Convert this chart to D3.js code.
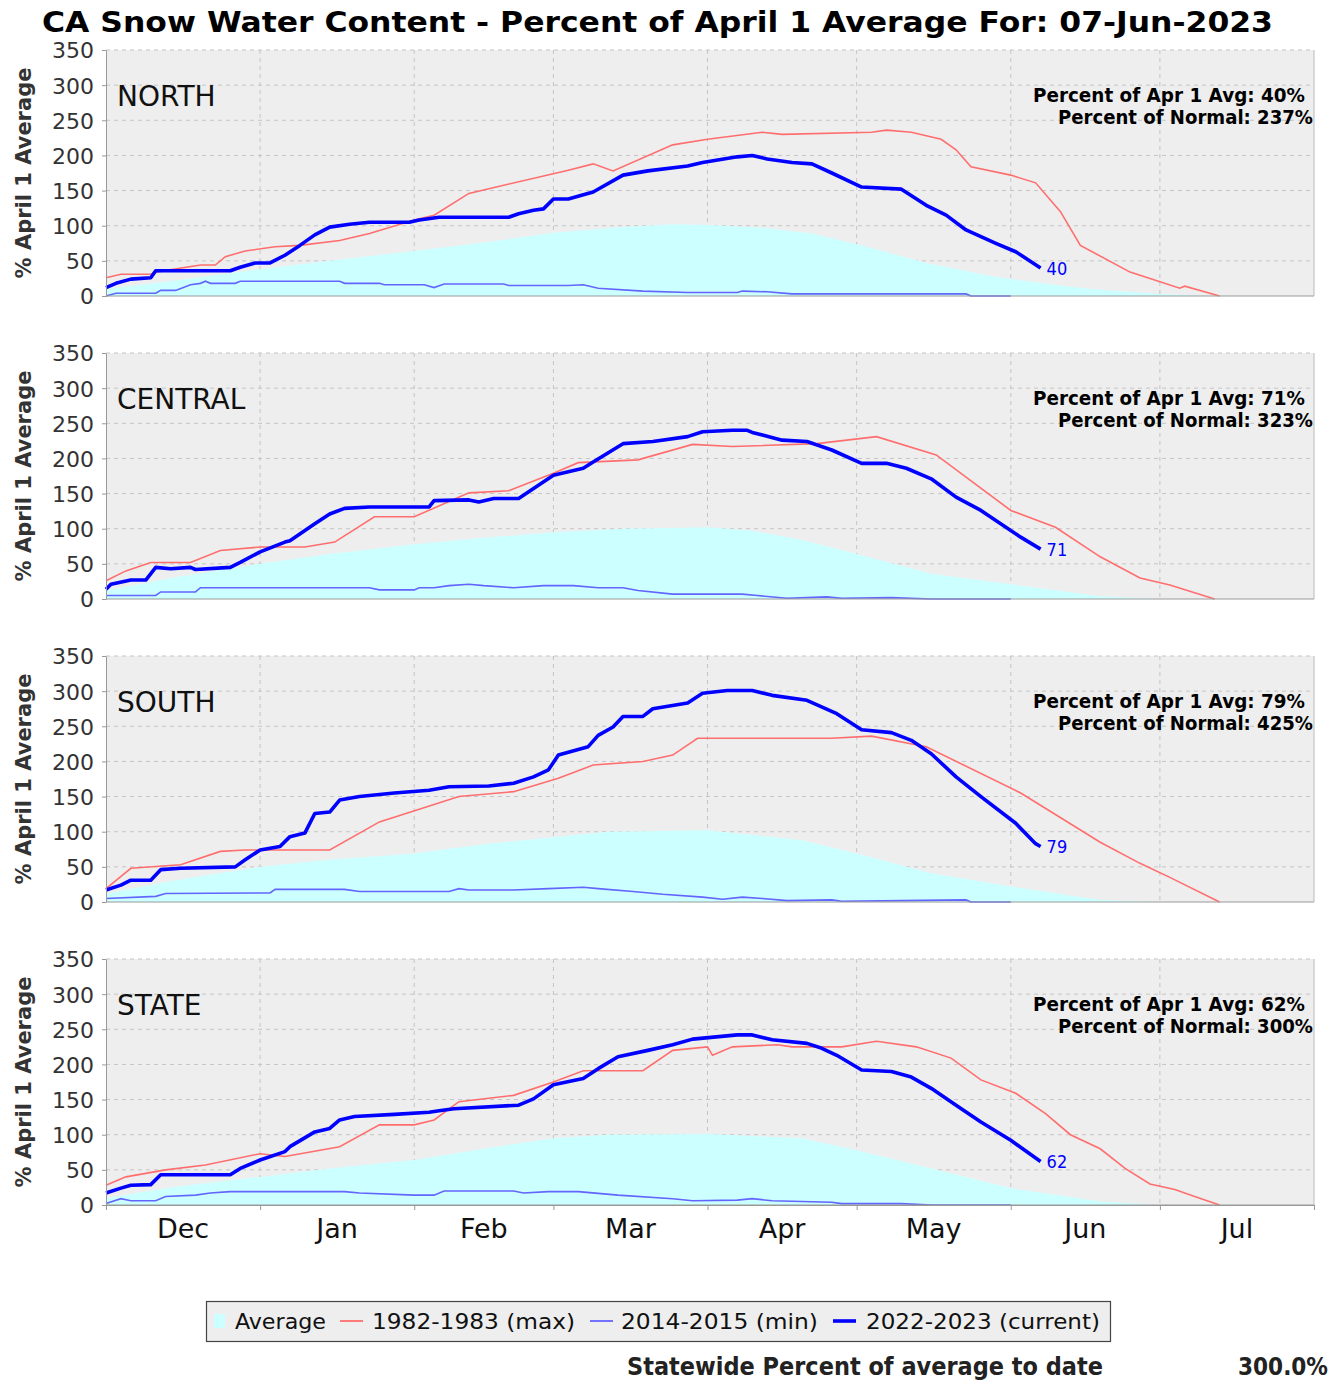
<!DOCTYPE html>
<html>
<head>
<meta charset="utf-8">
<script src="https://cdn.jsdelivr.net/npm/d3@7/dist/d3.min.js"></script>
<style>
  body { margin: 0; background: #fff; }
</style>
</head>
<body>
<div id="chart"></div>
<script>
// ---- data ----
const titleText = "CA Snow Water Content - Percent of April 1 Average For: 07-Jun-2023";
const regions = ["NORTH", "CENTRAL", "SOUTH", "STATE"];
const pctApr1 = [40, 71, 79, 62];
const pctNormal = [237, 323, 425, 300];
const months = ["Dec", "Jan", "Feb", "Mar", "Apr", "May", "Jun", "Jul"];
const yTicks = [0, 50, 100, 150, 200, 250, 300, 350];
const legendLabels = ["Average", "1982-1983 (max)", "2014-2015 (min)", "2022-2023 (current)"];

// points are ["MM-DD", percent]; Dec is 2022, the rest 2023
const northAvg = [["12-01",10],["12-15",22],["01-01",38],["01-15",50],["02-01",64],["02-15",76],["03-01",90],["03-15",98],["03-25",102],["04-01",101],["04-12",97],["04-22",89],["05-02",72],["05-15",47],["05-29",27],["06-11",15],["06-17",10],["07-01",3],["07-12",0],["08-01",0]];
const northMax = [["12-01",26],["12-04",31],["12-10",31],["12-11",34],["12-20",44],["12-23",44],["12-25",56],["12-29",64],["01-04",70],["01-09",72],["01-17",79],["01-23",89],["02-01",108],["02-05",115],["02-12",146],["03-04",179],["03-09",188],["03-13",178],["03-25",215],["04-01",223],["04-12",233],["04-16",230],["05-04",233],["05-07",236],["05-12",233],["05-18",223],["05-21",208],["05-24",184],["06-01",172],["06-06",161],["06-11",120],["06-15",72],["06-25",34],["07-05",11],["07-06",14],["07-13",0]];
const northMin = [["12-01",0],["12-03",4],["12-11",4],["12-12",8],["12-15",8],["12-18",16],["12-20",18],["12-21",21],["12-22",18],["12-27",18],["12-28",21],["01-17",21],["01-18",18],["01-25",18],["01-26",16],["02-03",16],["02-05",12],["02-07",17],["02-19",17],["02-20",15],["03-04",15],["03-07",16],["03-10",11],["03-19",7],["03-28",5],["04-07",5],["04-08",7],["04-13",6],["04-18",3],["05-23",3],["05-24",0],["06-01",0]];
const northCur = [["12-01",12],["12-03",18],["12-06",24],["12-10",26],["12-11",36],["12-26",36],["12-28",41],["12-31",47],["01-03",47],["01-06",58],["01-09",72],["01-12",87],["01-15",98],["01-19",102],["01-23",105],["01-31",105],["02-02",108],["02-06",112],["02-20",112],["02-22",117],["02-25",122],["02-27",124],["03-01",138],["03-04",138],["03-09",148],["03-15",172],["03-20",178],["03-28",185],["03-31",190],["04-07",198],["04-10",200],["04-13",195],["04-18",190],["04-22",188],["04-26",175],["05-02",155],["05-10",152],["05-15",129],["05-19",115],["05-23",94],["05-29",75],["06-02",63],["06-07",40]];

const centralAvg = [["12-01",12],["12-15",31],["01-01",50],["01-15",64],["02-01",78],["02-15",87],["03-01",95],["03-15",100],["04-01",102],["04-10",97],["04-20",84],["05-01",64],["05-16",36],["06-01",21],["06-19",4],["07-01",0],["08-01",0]];
const centralMax = [["12-01",26],["12-05",40],["12-10",52],["12-18",52],["12-24",69],["01-01",74],["01-10",74],["01-16",81],["01-24",117],["02-01",117],["02-12",151],["02-20",154],["03-01",179],["03-06",194],["03-18",198],["03-29",220],["04-06",217],["04-23",221],["05-05",231],["05-17",205],["06-01",126],["06-10",102],["06-19",60],["06-27",30],["07-03",20],["07-12",0]];
const centralMin = [["12-01",5],["12-11",5],["12-12",10],["12-19",10],["12-20",16],["01-23",16],["01-25",13],["02-01",13],["02-02",16],["02-05",16],["02-08",19],["02-12",21],["02-15",19],["02-21",16],["02-27",19],["03-05",19],["03-10",16],["03-15",16],["03-18",12],["03-25",7],["04-08",7],["04-11",5],["04-17",1],["04-25",3],["04-28",1],["05-08",2],["05-16",0],["06-01",0]];
const centralCur = [["12-01",14],["12-02",21],["12-06",27],["12-09",27],["12-11",45],["12-14",43],["12-18",45],["12-19",42],["12-26",45],["12-28",52],["01-01",67],["01-06",81],["01-07",83],["01-12",107],["01-15",121],["01-18",129],["01-23",131],["02-04",131],["02-05",140],["02-12",141],["02-14",138],["02-17",143],["02-22",143],["03-01",176],["03-07",186],["03-09",195],["03-15",221],["03-21",224],["03-28",231],["03-31",238],["04-06",240],["04-09",240],["04-10",237],["04-16",226],["04-21",224],["04-26",212],["05-02",193],["05-07",193],["05-11",186],["05-16",171],["05-21",145],["05-26",126],["06-03",88],["06-07",71]];

const southAvg = [["12-01",12],["12-15",31],["01-01",50],["01-15",60],["02-01",69],["02-15",82],["03-02",93],["03-12",100],["04-01",102],["04-20",88],["05-01",69],["05-16",41],["06-01",22],["06-19",3],["07-01",0],["08-01",0]];
const southMax = [["12-01",19],["12-06",48],["12-16",53],["12-24",72],["12-29",74],["01-15",74],["01-25",114],["02-10",150],["02-21",157],["03-02",176],["03-09",195],["03-19",200],["03-25",209],["03-30",233],["04-26",233],["05-04",236],["05-15",221],["06-03",155],["06-19",85],["06-27",55],["07-03",35],["07-13",0]];
const southMin = [["12-01",5],["12-11",8],["12-13",12],["01-03",13],["01-04",18],["01-18",18],["01-21",15],["02-08",15],["02-10",19],["02-12",17],["02-21",17],["02-28",19],["03-07",21],["03-10",19],["03-17",15],["03-23",11],["03-31",7],["04-04",4],["04-08",7],["04-12",5],["04-17",2],["04-26",3],["04-28",1],["05-10",2],["05-23",3],["05-24",0],["06-01",0]];
const southCur = [["12-01",17],["12-04",24],["12-06",31],["12-10",31],["12-12",46],["12-16",48],["12-27",50],["12-29",60],["01-01",74],["01-05",79],["01-07",93],["01-10",98],["01-12",126],["01-15",128],["01-17",145],["01-21",150],["01-28",155],["02-04",159],["02-08",164],["02-16",165],["02-21",169],["02-25",178],["02-28",188],["03-02",209],["03-08",221],["03-10",237],["03-13",249],["03-15",264],["03-19",264],["03-21",275],["03-28",283],["03-31",297],["04-05",301],["04-10",301],["04-14",294],["04-21",287],["04-27",268],["05-02",245],["05-08",241],["05-12",230],["05-16",211],["05-21",178],["05-26",150],["06-02",112],["06-06",83],["06-07",79]];

const stateAvg = [["12-01",10],["12-15",26],["01-01",40],["01-15",52],["02-01",64],["02-15",80],["03-01",95],["03-12",100],["04-01",101],["04-20",95],["05-01",78],["05-16",52],["06-01",24],["06-19",5],["07-01",0],["08-01",0]];
const stateMax = [["12-01",28],["12-05",40],["12-13",50],["12-21",57],["01-01",73],["01-06",69],["01-17",83],["01-25",114],["02-01",114],["02-05",121],["02-10",147],["02-21",156],["03-01",175],["03-07",191],["03-19",191],["03-25",220],["04-01",225],["04-02",213],["04-06",225],["04-15",228],["04-18",225],["04-28",225],["05-05",233],["05-13",225],["05-20",209],["05-26",178],["06-02",159],["06-08",130],["06-13",100],["06-19",80],["06-24",52],["06-29",30],["07-04",22],["07-08",12],["07-13",0]];
const stateMin = [["12-01",2],["12-04",9],["12-06",6],["12-11",6],["12-13",12],["12-19",14],["12-22",17],["12-26",19],["01-18",19],["01-21",17],["02-01",14],["02-05",14],["02-07",20],["02-21",20],["02-23",17],["02-28",19],["03-06",19],["03-14",14],["03-25",9],["03-29",6],["04-07",7],["04-10",9],["04-14",6],["04-26",4],["04-28",2],["05-10",2],["05-16",0],["06-01",0]];
const stateCur = [["12-01",17],["12-04",24],["12-06",28],["12-10",29],["12-12",43],["12-26",43],["12-28",52],["01-01",64],["01-06",76],["01-07",83],["01-12",104],["01-15",109],["01-17",121],["01-20",126],["01-28",129],["02-04",132],["02-06",134],["02-09",137],["02-22",142],["02-25",151],["03-01",171],["03-07",180],["03-10",194],["03-14",211],["03-20",220],["03-25",228],["03-29",236],["04-07",242],["04-10",242],["04-14",235],["04-21",230],["04-24",223],["04-27",213],["05-02",192],["05-08",190],["05-12",182],["05-16",166],["05-21",142],["05-26",118],["06-01",92],["06-07",62]];

const avgSeries = [northAvg, centralAvg, southAvg, stateAvg];
const maxSeries = [northMax, centralMax, southMax, stateMax];
const minSeries = [northMin, centralMin, southMin, stateMin];
const curSeries = [northCur, centralCur, southCur, stateCur];

// ---- drawing ----
const W = 1331, H = 1381;
const FONT = "'DejaVu Sans', Verdana, sans-serif";
const COND = "'DejaVu Sans Condensed', 'DejaVu Sans', sans-serif";
const colors = { avg: "#ccffff", max: "#ff6e6e", min: "#6464ff", cur: "#0000ff" };

const parseMD = s => {
  const [m, d] = s.split("-").map(Number);
  return new Date(m === 12 ? 2022 : 2023, m - 1, d);
};

const svg = d3.select("#chart").append("svg")
  .attr("width", W).attr("height", H)
  .style("font-family", FONT);

const x = d3.scaleTime()
  .domain([new Date(2022, 11, 1), new Date(2023, 7, 1)])
  .range([106, 1314]);

const monthStarts = months.map((m, i) => new Date(2022, 11 + i, 1));
const panelH = 246;
const panelTop = regions.map((r, i) => 50 + i * 303);

function fit(sel, len) {
  sel.attr("textLength", len).attr("lengthAdjust", "spacingAndGlyphs");
}

svg.append("text")
  .attr("x", 42).attr("y", 32)
  .style("font-size", "28px").style("font-weight", "bold")
  .text(titleText)
  .call(fit, 1231);

regions.forEach((name, i) => {
  const top = panelTop[i];
  const y = d3.scaleLinear().domain([0, 350]).range([top + panelH, top]);
  const g = svg.append("g");

  g.append("rect")
    .attr("x", x.range()[0]).attr("y", top)
    .attr("width", x.range()[1] - x.range()[0]).attr("height", panelH)
    .attr("fill", "#eeeeee");

  // grid
  g.selectAll(".hgrid").data(yTicks.filter(t => t > 0)).enter()
    .append("line")
    .attr("x1", x.range()[0]).attr("x2", x.range()[1])
    .attr("y1", d => y(d)).attr("y2", d => y(d))
    .attr("stroke", "#c4c4c4").attr("stroke-dasharray", "4,4");
  g.selectAll(".vgrid").data(monthStarts.slice(1)).enter()
    .append("line")
    .attr("x1", d => x(d)).attr("x2", d => x(d))
    .attr("y1", top).attr("y2", top + panelH)
    .attr("stroke", "#c4c4c4").attr("stroke-dasharray", "4,4");

  const area = d3.area()
    .x(d => x(parseMD(d[0])))
    .y0(y(0))
    .y1(d => y(d[1]));
  const line = d3.line()
    .x(d => x(parseMD(d[0])))
    .y(d => y(d[1]));

  g.append("path").attr("d", area(avgSeries[i])).attr("fill", colors.avg);
  g.append("path").attr("d", line(maxSeries[i])).attr("fill", "none")
    .attr("stroke", colors.max).attr("stroke-width", 1.6);
  g.append("path").attr("d", line(minSeries[i])).attr("fill", "none")
    .attr("stroke", colors.min).attr("stroke-width", 1.6);
  g.append("path").attr("d", line(curSeries[i])).attr("fill", "none")
    .attr("stroke", colors.cur).attr("stroke-width", 3.6)
    .attr("stroke-linejoin", "round");

  // right border & bottom axis line
  g.append("line")
    .attr("x1", x.range()[1]).attr("x2", x.range()[1])
    .attr("y1", top).attr("y2", top + panelH)
    .attr("stroke", "#bbbbbb");
  g.append("line")
    .attr("x1", x.range()[0]).attr("x2", x.range()[1])
    .attr("y1", y(0)).attr("y2", y(0))
    .attr("stroke", "#999999").attr("stroke-width", 1.2);

  // y axis
  const yAxis = g.append("g")
    .attr("transform", `translate(${x.range()[0]},0)`)
    .call(d3.axisLeft(y).tickValues(yTicks).tickSize(4).tickPadding(8).tickSizeOuter(0));
  yAxis.select(".domain").attr("stroke", "#999999");
  yAxis.selectAll(".tick line").attr("stroke", "#999999");
  yAxis.selectAll("text")
    .style("font-family", FONT).style("font-size", "22px").attr("fill", "#333")
    .attr("dy", "0.36em");

  g.append("text")
    .attr("transform", `translate(31,${top + panelH / 2}) rotate(-90)`)
    .attr("text-anchor", "middle")
    .style("font-size", "21px").style("font-weight", "bold").attr("fill", "#333")
    .text("% April 1 Average");

  g.append("text")
    .attr("x", 117).attr("y", top + 56)
    .style("font-size", "28px").attr("fill", "#111")
    .text(name);

  g.append("text")
    .attr("x", 1305).attr("y", top + 52)
    .attr("text-anchor", "end")
    .style("font-size", "19px").style("font-weight", "bold")
    .text(`Percent of Apr 1 Avg: ${pctApr1[i]}%`)
    .call(fit, 272);
  g.append("text")
    .attr("x", 1313).attr("y", top + 74)
    .attr("text-anchor", "end")
    .style("font-size", "19px").style("font-weight", "bold")
    .text(`Percent of Normal: ${pctNormal[i]}%`)
    .call(fit, 255);

  const last = curSeries[i][curSeries[i].length - 1];
  g.append("text")
    .attr("x", x(parseMD(last[0])) + 6)
    .attr("y", y(last[1]) + 7)
    .style("font-family", COND).style("font-size", "18px")
    .attr("fill", colors.cur)
    .text(pctApr1[i]);

  if (i === regions.length - 1) {
    const xAxis = g.append("g")
      .attr("transform", `translate(0,${y(0)})`)
      .call(d3.axisBottom(x).tickValues(monthStarts.concat([new Date(2023, 7, 1)]))
        .tickSize(5).tickFormat("").tickSizeOuter(0));
    xAxis.select(".domain").attr("stroke", "#999999");
    xAxis.selectAll(".tick line").attr("stroke", "#999999");

    g.selectAll(".month").data(months).enter()
      .append("text")
      .attr("x", (d, k) => (x(monthStarts[k]) + x(new Date(2022, 12 + k, 1))) / 2)
      .attr("y", y(0) + 33)
      .attr("text-anchor", "middle")
      .style("font-size", "27px").attr("fill", "#111")
      .text(d => d);
  }
});

// legend
const lg = svg.append("g");
lg.append("rect")
  .attr("x", 206.5).attr("y", 1301.5).attr("width", 904).attr("height", 40)
  .attr("fill", "#eeeeee").attr("stroke", "#444").attr("stroke-width", 1.2);
const legendItems = [
  { key: "avg", sx: 214, tx: 235, len: 91 },
  { key: "max", sx: 340, tx: 372, len: 203 },
  { key: "min", sx: 590, tx: 621, len: 197 },
  { key: "cur", sx: 833, tx: 866, len: 234 }
];
legendItems.forEach((it, k) => {
  if (it.key === "avg") {
    lg.append("rect").attr("x", it.sx).attr("y", 1314).attr("width", 11).attr("height", 14)
      .attr("fill", colors.avg);
  } else {
    lg.append("line")
      .attr("x1", it.sx).attr("x2", it.sx + 23)
      .attr("y1", 1321).attr("y2", 1321)
      .attr("stroke", colors[it.key])
      .attr("stroke-width", it.key === "cur" ? 3.6 : 1.8);
  }
  lg.append("text")
    .attr("x", it.tx).attr("y", 1329)
    .style("font-family", COND).style("font-size", "21px").attr("fill", "#111")
    .text(legendLabels[k])
    .call(fit, it.len);
});

svg.append("text")
  .attr("x", 627).attr("y", 1375)
  .style("font-family", COND).style("font-size", "24px").style("font-weight", "bold")
  .attr("fill", "#222")
  .text("Statewide Percent of average to date")
  .call(fit, 476);
svg.append("text")
  .attr("x", 1328).attr("y", 1375)
  .attr("text-anchor", "end")
  .style("font-family", COND).style("font-size", "24px").style("font-weight", "bold")
  .attr("fill", "#222")
  .text(pctNormal[3].toFixed(1) + "%");
</script>
</body>
</html>
